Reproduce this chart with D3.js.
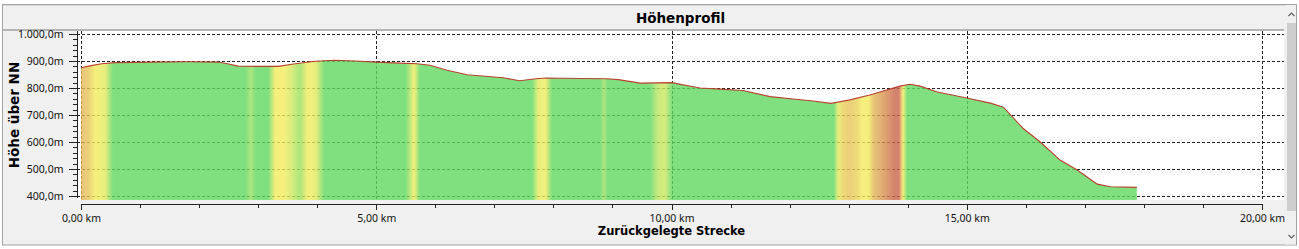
<!DOCTYPE html>
<html>
<head>
<meta charset="utf-8">
<script src="https://cdn.jsdelivr.net/npm/d3@7"></script>
<style>
  body { margin: 0; background: #fff; }
  svg { display: block; }
  .axis text { font-family: 'Noto Sans', 'Liberation Sans', sans-serif; font-size: 10.5px; fill: #111; }
  .axis line, .axis path { stroke: #222; shape-rendering: crispEdges; }
  .grid line { stroke: #222; stroke-dasharray: 3,2; shape-rendering: crispEdges; }
  .label { font-family: 'DejaVu Sans', sans-serif; font-weight: bold; fill: #000; }
</style>
</head>
<body>
<div id="chart"></div>
<script>
// Streckenprofil: zurückgelegte Strecke (km) und Höhe über NN (m)
const distanceKm = [0.00, 0.15, 0.35, 0.58, 1.20, 1.80, 2.32, 2.50, 2.66, 3.00, 3.34, 3.60, 3.96, 4.30, 4.65,
  5.00, 5.40, 5.69, 5.91, 6.20, 6.54, 7.15, 7.43, 7.70, 7.89, 8.45, 8.90, 9.10, 9.47, 10.00, 10.48, 10.82,
  11.21, 11.67, 12.06, 12.40, 12.70, 13.00, 13.36, 13.60, 13.87, 14.04, 14.21, 14.50, 15.00, 15.40, 15.62,
  15.95, 16.24, 16.58, 16.87, 17.21, 17.43, 17.88];
const elevationM = [875, 882, 890, 894, 896, 897, 896, 889, 881, 880, 880, 889, 899, 903, 900,
  896, 892, 890, 884, 866, 849, 838, 827, 834, 837, 835, 834, 831, 818, 820, 800, 796,
  791, 768, 759, 752, 743, 755, 774, 790, 807, 814, 807, 785, 763, 744, 729,
  651, 601, 533, 496, 444, 434, 432];

// Steigung (%) entlang der Strecke -> Farbe der Fläche
const gradeKm = [0.00, 0.12, 0.24, 0.41, 0.54, 2.78, 2.88, 2.96, 3.17, 3.29, 3.45, 3.57, 3.71, 3.84, 3.98, 4.12,
  5.50, 5.64, 5.74, 7.64, 7.74, 7.86, 7.98, 8.79, 8.86, 8.92, 9.64, 9.77, 9.89, 10.01,
  12.75, 12.82, 12.90, 13.02, 13.14, 13.23, 13.33, 13.43, 13.62, 13.78, 13.85, 13.92, 13.99, 17.88];
const gradePct = [6, 5.5, 4, 3.5, 0, 0, 1.5, 0, 0, 4, 4, 3, 1.5, 4, 3.5, 0,
  0, 4, 0, 0, 3.5, 4, 0, 0, 1.5, 0, 0, 2.5, 3, 0,
  0, 3.5, 5, 5.5, 5, 4, 4, 6, 7.5, 9, 9, 4, 0, 0];

const xTickValues = [0, 5, 10, 15, 20];
const yTickValues = [400, 500, 600, 700, 800, 900, 1000];

const width = 1299;
const height = 249;
const plot = { left: 77, right: 1284, top: 31, bottom: 200 };

const locale = d3.formatLocale({ decimal: ',', thousands: '.', grouping: [3], currency: ['', ' €'] });
const fmtY = locale.format(',.1f');
const fmtX = locale.format('.2f');

const xScale = d3.scaleLinear().domain([0, 20]).range([81, 1262]);
const yScale = d3.scaleLinear().domain([400, 1000]).range([196, 34]);

// green (flat/downhill) -> yellow -> red (steep)
const gradeColor = d3.scaleLinear()
  .domain([0, 4, 9])
  .range(['#60d860', '#f2ec5c', '#c9634a'])
  .clamp(true);

const svg = d3.select('#chart').append('svg')
  .attr('width', width)
  .attr('height', height);

// window frame
svg.append('rect')
  .attr('x', 2.5).attr('y', 4.5)
  .attr('width', 1294).attr('height', 240.5)
  .attr('fill', '#f0f0f0')
  .attr('stroke', '#a3a3a3');

svg.append('line')
  .attr('x1', 3).attr('x2', 1285)
  .attr('y1', 5.5).attr('y2', 5.5)
  .attr('stroke', '#d8d8d8');

// plot background
svg.append('rect')
  .attr('x', plot.left).attr('y', plot.top)
  .attr('width', plot.right - plot.left).attr('height', plot.bottom - plot.top)
  .attr('fill', '#fff');

svg.append('line') // line under title bar
  .attr('x1', 3).attr('x2', plot.right)
  .attr('y1', 30).attr('y2', 30)
  .attr('stroke', '#a0a0a0')
  .attr('stroke-width', 1.5);

// scrollbar
svg.append('rect')
  .attr('x', 1285).attr('y', 5)
  .attr('width', 11).attr('height', 239.5)
  .attr('fill', '#f0f0f0');
svg.append('rect')
  .attr('x', 1287).attr('y', 23)
  .attr('width', 9).attr('height', 188)
  .attr('fill', '#cdcdcd');
svg.append('path')
  .attr('d', 'M1288.5,16 L1291.5,13 L1294.5,16')
  .attr('fill', 'none').attr('stroke', '#606060').attr('stroke-width', 1.2);
svg.append('path')
  .attr('d', 'M1288.5,235 L1291.5,238 L1294.5,235')
  .attr('fill', 'none').attr('stroke', '#606060').attr('stroke-width', 1.2);

// grid
const grid = svg.append('g').attr('class', 'grid');
grid.selectAll('.h')
  .data(yTickValues)
  .enter().append('line')
  .attr('x1', plot.left).attr('x2', plot.right)
  .attr('y1', d => Math.round(yScale(d)) + 0.5)
  .attr('y2', d => Math.round(yScale(d)) + 0.5);
grid.selectAll('.v')
  .data(xTickValues)
  .enter().append('line')
  .attr('x1', d => Math.round(xScale(d)) + 0.5)
  .attr('x2', d => Math.round(xScale(d)) + 0.5)
  .attr('y1', plot.top).attr('y2', plot.bottom);

// gradient along the route, coloured by grade
const maxKm = d3.max(distanceKm);
const grad = svg.append('defs').append('linearGradient')
  .attr('id', 'grade')
  .attr('gradientUnits', 'userSpaceOnUse')
  .attr('x1', xScale(0)).attr('x2', xScale(maxKm))
  .attr('y1', 0).attr('y2', 0);
grad.selectAll('stop')
  .data(gradeKm)
  .enter().append('stop')
  .attr('offset', d => d / maxKm)
  .attr('stop-color', (d, i) => gradeColor(gradePct[i]));

const profile = distanceKm.map((d, i) => ({ km: d, m: elevationM[i] }));

const area = d3.area()
  .x(d => xScale(d.km))
  .y0(plot.bottom)
  .y1(d => yScale(d.m));

const line = d3.line()
  .x(d => xScale(d.km))
  .y(d => yScale(d.m));

svg.append('path')
  .attr('d', area(profile))
  .attr('fill', 'url(#grade)')
  .attr('fill-opacity', 0.8);

svg.append('path')
  .attr('d', line(profile))
  .attr('fill', 'none')
  .attr('stroke', '#b8402e')
  .attr('stroke-width', 1.1);

// x axis
const xMinor = svg.append('g')
  .attr('class', 'axis')
  .attr('transform', 'translate(0,203.5)')
  .call(d3.axisBottom(xScale).tickValues(d3.range(0, 21, 1)).tickSize(4).tickSizeOuter(0).tickFormat(''));
xMinor.select('.domain').remove();

const xAxis = svg.append('g')
  .attr('class', 'axis')
  .attr('transform', 'translate(0,203.5)')
  .call(d3.axisBottom(xScale).tickValues(xTickValues).tickSize(6).tickSizeOuter(0)
    .tickFormat(d => `${fmtX(d)} km`));
xAxis.selectAll('text').attr('y', 18).attr('dy', 0);

// y axis
const yMinor = svg.append('g')
  .attr('class', 'axis')
  .attr('transform', 'translate(77.5,0)')
  .call(d3.axisLeft(yScale).tickValues(d3.range(400, 1001, 20)).tickSize(5).tickSizeOuter(0).tickFormat(''));
yMinor.select('.domain').remove();

const yAxis = svg.append('g')
  .attr('class', 'axis')
  .attr('transform', 'translate(77.5,0)')
  .call(d3.axisLeft(yScale).tickValues(yTickValues).tickSize(9).tickPadding(5)
    .tickFormat(d => `${fmtY(d)}m`));
yAxis.select('.domain')
  .attr('d', `M0,${plot.top}V198`);

// titles
svg.append('text')
  .attr('class', 'label')
  .attr('x', (plot.left + plot.right) / 2)
  .attr('y', 23)
  .attr('text-anchor', 'middle')
  .style('font-size', '13.5px')
  .text('Höhenprofil');

svg.append('text')
  .attr('class', 'label')
  .attr('x', (xScale(0) + xScale(20)) / 2)
  .attr('y', 235)
  .attr('text-anchor', 'middle')
  .style('font-size', '11.5px')
  .text('Zurückgelegte Strecke');

svg.append('text')
  .attr('class', 'label')
  .attr('transform', `translate(19,${(yScale(400) + yScale(1000)) / 2}) rotate(-90)`)
  .attr('text-anchor', 'middle')
  .style('font-size', '13.5px')
  .text('Höhe über NN');
</script>
</body>
</html>
